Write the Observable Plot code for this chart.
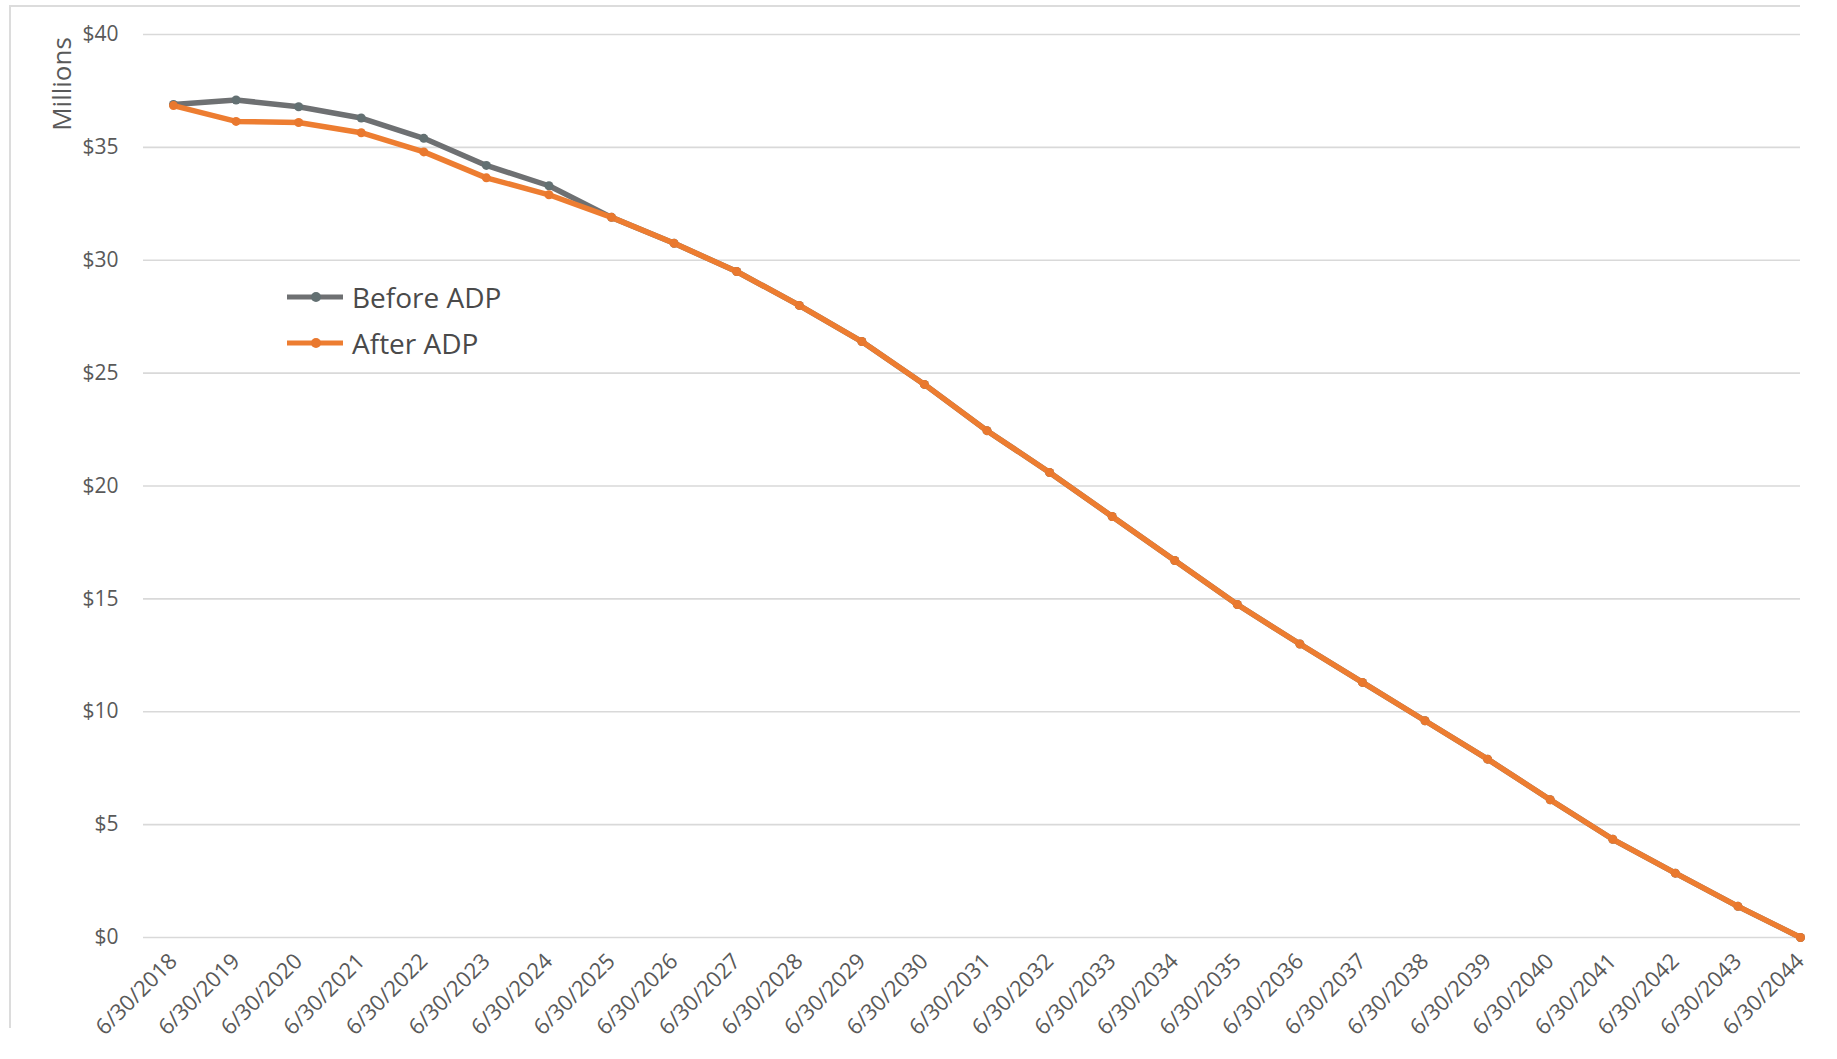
<!DOCTYPE html>
<html>
<head>
<meta charset="utf-8">
<script src="https://cdn.jsdelivr.net/npm/d3@7"></script>
<script src="https://cdn.jsdelivr.net/npm/@observablehq/plot@0.6"></script>
<style>
  html, body { margin: 0; padding: 0; background: #ffffff; }
  #wrap { position: relative; width: 1837px; height: 1059px; overflow: hidden; font-family: "Open Sans", sans-serif; }
  #frame { position: absolute; left: 9px; top: 5px; width: 1791px; height: 1023px;
           border-left: 2px solid #dcdcdc; border-top: 2px solid #dcdcdc; box-sizing: border-box; }
  #chart { position: absolute; left: 0; top: 0; }
  #unit { position: absolute; left: 61px; top: 84px; transform: translate(-50%, -50%) rotate(-90deg);
          font-size: 26px; color: #595959; white-space: nowrap; }
  #legend { position: absolute; left: 287px; top: 274px; }
  .item { display: flex; align-items: center; height: 46px; }
  .item span { margin-left: 9px; font-size: 28px; color: #4a4a4a; line-height: 46px; }
</style>
</head>
<body>
<div id="wrap">
  <div id="frame"></div>
  <div id="chart"></div>
  <div id="unit">Millions</div>
  <div id="legend"></div>
</div>
<script>
// Fiscal year-end valuation dates
const dates = [
  "6/30/2018", "6/30/2019", "6/30/2020", "6/30/2021", "6/30/2022", "6/30/2023",
  "6/30/2024", "6/30/2025", "6/30/2026", "6/30/2027", "6/30/2028", "6/30/2029",
  "6/30/2030", "6/30/2031", "6/30/2032", "6/30/2033", "6/30/2034", "6/30/2035",
  "6/30/2036", "6/30/2037", "6/30/2038", "6/30/2039", "6/30/2040", "6/30/2041",
  "6/30/2042", "6/30/2043", "6/30/2044"
];

// Balance in $ millions
const beforeADP = [
  36.9, 37.1, 36.8, 36.3, 35.4, 34.2, 33.3, 31.9, 30.75, 29.5, 28.0, 26.4,
  24.5, 22.45, 20.6, 18.65, 16.7, 14.75, 13.0, 11.3, 9.6, 7.9, 6.1, 4.35,
  2.85, 1.38, 0.0
];
const afterADP = [
  36.85, 36.15, 36.1, 35.65, 34.8, 33.65, 32.9, 31.9, 30.75, 29.5, 28.0, 26.4,
  24.5, 22.45, 20.6, 18.65, 16.7, 14.75, 13.0, 11.3, 9.6, 7.9, 6.1, 4.35,
  2.85, 1.38, 0.0
];

const yTicks = [0, 5, 10, 15, 20, 25, 30, 35, 40];

const seriesNames = ["Before ADP", "After ADP"];
const seriesColors = ["#6e7072", "#ed7d31"];
const markerColors = ["#637072", "#e9782e"];

const beforeRows = dates.map((d, i) => ({date: d, value: beforeADP[i]}));
const afterRows = dates.map((d, i) => ({date: d, value: afterADP[i]}));

const chart = Plot.plot({
  width: 1837,
  height: 1059,
  marginLeft: 143,
  marginRight: 37,
  marginTop: 34,
  marginBottom: 122,
  style: {fontFamily: "Open Sans", background: "transparent", overflow: "visible"},
  x: {type: "point", domain: dates, padding: 0, round: false, insetLeft: 30},
  y: {domain: [0, 40]},
  marks: [
    Plot.ruleY(yTicks, {stroke: "#d9d9d9", strokeWidth: 1.6}),
    Plot.axisY({ticks: yTicks, tickSize: 0, tickPadding: 25, tickFormat: d => "$" + d,
                fontSize: 21, fill: "#595959", label: null}),
    Plot.axisX({tickRotate: -45, tickSize: 0, tickPadding: 20, fontSize: 22,
                fill: "#595959", label: null}),
    Plot.line(beforeRows, {x: "date", y: "value", stroke: seriesColors[0], strokeWidth: 5.5}),
    Plot.dot(beforeRows, {x: "date", y: "value", r: 4.5, fill: markerColors[0]}),
    Plot.line(afterRows, {x: "date", y: "value", stroke: seriesColors[1], strokeWidth: 5.5}),
    Plot.dot(afterRows, {x: "date", y: "value", r: 4.5, fill: markerColors[1]})
  ]
});
document.getElementById("chart").appendChild(chart);

// Legend swatches: line with a centered marker
const legend = d3.select("#legend");
seriesNames.forEach((name, i) => {
  const item = legend.append("div").attr("class", "item");
  const sw = item.append("svg").attr("width", 56).attr("height", 14);
  sw.append("line").attr("x1", 0).attr("x2", 56).attr("y1", 7).attr("y2", 7)
    .attr("stroke", seriesColors[i]).attr("stroke-width", 5);
  sw.append("circle").attr("cx", 29).attr("cy", 7).attr("r", 5).attr("fill", markerColors[i]);
  item.append("span").text(name);
});
</script>
</body>
</html>
